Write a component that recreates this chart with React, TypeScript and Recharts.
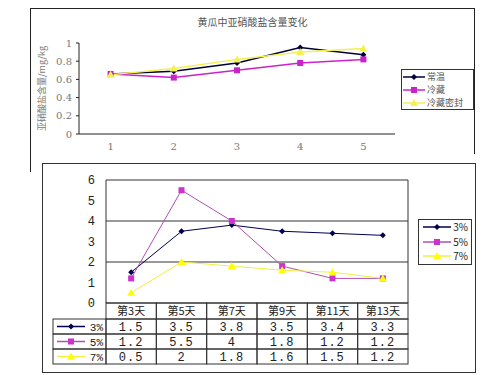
import { LineChart, Line, XAxis, YAxis, CartesianGrid, Legend } from "recharts"

// top chart: 黄瓜中亚硝酸盐含量变化
const days = [1, 2, 3, 4, 5]
const normalTemp = [0.66, 0.69, 0.78, 0.95, 0.87]
const fridge = [0.66, 0.62, 0.7, 0.78, 0.82]
const fridgeSealed = [0.65, 0.72, 0.82, 0.9, 0.94]
const topTicks = [0, 0.2, 0.4, 0.6, 0.8, 1]

// bottom chart: salt 3% / 5% / 7%
const dayLabels = ["第3天", "第5天", "第7天", "第9天", "第11天", "第13天"]
const salt3 = [1.5, 3.5, 3.8, 3.5, 3.4, 3.3]
const salt5 = [1.2, 5.5, 4, 1.8, 1.2, 1.2]
const salt7 = [0.5, 2, 1.8, 1.6, 1.5, 1.2]
const bottomTicks = [0, 1, 2, 3, 4, 5, 6]

const topData = days.map((d, i) => ({ day: d, normal: normalTemp[i], fridge: fridge[i], sealed: fridgeSealed[i] }))
const bottomData = dayLabels.map((d, i) => ({ day: d, s3: salt3[i], s5: salt5[i], s7: salt7[i] }))

const topSeries = [
  { key: "normal", name: "常温", color: "#000038", shape: "diamond" },
  { key: "fridge", name: "冷藏", color: "#cc22cc", shape: "square" },
  { key: "sealed", name: "冷藏密封", color: "#f4f050", shape: "triangle" },
]
const bottomSeries = [
  { key: "s3", name: "3%", color: "#000050", line: "#000050", shape: "diamond" },
  { key: "s5", name: "5%", color: "#cc33cc", line: "#b050b0", shape: "square" },
  { key: "s7", name: "7%", color: "#ffff00", line: "#f0f040", shape: "triangle" },
]

const CJK = '"Noto Sans CJK SC", sans-serif'
const MONO = '"Liberation Mono", monospace'

function Marker({ cx, cy, shape, color, s = 3 }: any) {
  if (shape === "diamond")
    return <polygon points={`${cx},${cy - s} ${cx + s},${cy} ${cx},${cy + s} ${cx - s},${cy}`} fill={color} />
  if (shape === "square") return <rect x={cx - s} y={cy - s} width={s * 2} height={s * 2} fill={color} />
  return <polygon points={`${cx},${cy - s - 1} ${cx + s + 1},${cy + s} ${cx - s - 1},${cy + s}`} fill={color} />
}

function LegendRow({ s, width, align, h }: any) {
  return (
    <div style={{ display: "flex", alignItems: "center", height: h, lineHeight: h + "px", justifyContent: align, whiteSpace: "nowrap" }}>
      <svg width={width} height={10} style={{ flex: "none" }}>
        <line x1={0} y1={5} x2={width} y2={5} stroke={s.line || s.color} strokeWidth={1.5} />
        <Marker cx={width / 2} cy={5} shape={s.shape} color={s.color} />
      </svg>
      <span style={{ marginLeft: 2 }}>{s.name}</span>
    </div>
  )
}

// top plot geometry
const TW = 445
const TM = { top: 35, right: 80, left: 14, bottom: 4 }
const TY = 35
const TBAND = (TW - TM.right - TM.left - TY) / days.length

// bottom plot geometry
const BW = 432
const BM = { top: 16, right: 66, left: 0, bottom: 5 }
const BY = 64
const BAND = (BW - BM.right - BY) / dayLabels.length
const ROWS = [16, 15, 15, 15]

function TableTick(props: any) {
  const { x, y, payload, index } = props
  const x0 = x - BAND / 2
  const vals = [salt3[index], salt5[index], salt7[index]]
  let top = y
  const cells: any[] = []
  ROWS.forEach((h, r) => {
    cells.push(<rect key={"r" + r} x={x0} y={top} width={BAND} height={h} fill="none" stroke="#333" />)
    cells.push(
      <text key={"t" + r} x={x} y={top + h / 2 + 4} textAnchor="middle" fontSize={r === 0 ? 11 : 12} fill="#222"
        style={{ fontFamily: r === 0 ? CJK : MONO, letterSpacing: r === 0 ? 0 : 1 }}>
        {r === 0 ? payload.value : String(vals[r - 1])}
      </text>
    )
    if (index === 0 && r > 0) {
      const lx = x0 - 53
      const s = bottomSeries[r - 1]
      cells.push(<rect key={"l" + r} x={lx} y={top} width={53} height={h} fill="none" stroke="#333" />)
      cells.push(<line key={"ll" + r} x1={lx + 4} y1={top + h / 2} x2={lx + 32} y2={top + h / 2} stroke={s.line} strokeWidth={1.5} />)
      cells.push(<Marker key={"lm" + r} cx={lx + 18} cy={top + h / 2} shape={s.shape} color={s.color} />)
      cells.push(
        <text key={"lt" + r} x={lx + 50} y={top + h / 2 + 4} textAnchor="end" fontSize={11} fill="#222" style={{ fontFamily: MONO }}>
          {s.name}
        </text>
      )
    }
    top += h
  })
  return <g>{cells}</g>
}

export default function App() {
  return (
    <div style={{ position: "absolute", left: 0, top: 0, width: 500, height: 375, background: "#fff", fontFamily: CJK }}>
      {/* top frame */}
      <div style={{ position: "absolute", left: 30, top: 8, width: 445, height: 0, borderTop: "1px solid #222" }} />
      <div style={{ position: "absolute", left: 30, top: 8, width: 0, height: 164, borderLeft: "1px solid #222" }} />
      <div style={{ position: "absolute", left: 474, top: 8, width: 0, height: 146, borderLeft: "1px solid #222" }} />
      <div style={{ position: "absolute", left: 196, top: 14, width: 113, textAlign: "center", fontSize: 10, color: "#555", whiteSpace: "nowrap" }}>
        黄瓜中亚硝酸盐含量变化
      </div>
      <div style={{ position: "absolute", left: 30, top: 8 }}>
        <LineChart width={TW} height={150} data={topData} margin={TM}>
          <XAxis dataKey="day" axisLine={{ stroke: "#222" }} tickLine={false} tickSize={0} tickMargin={9}
            padding={{ left: TBAND / 2, right: TBAND / 2 }}
            tick={{ fontSize: 10, fill: "#777", fontFamily: "DejaVu Serif" }} height={20} />
          <YAxis domain={[0, 1]} ticks={topTicks} width={TY} axisLine={{ stroke: "#222" }} tickSize={3}
            tickMargin={4} tickLine={{ stroke: "#222" }}
            tickFormatter={(v: number) => (v === 0 || v === 1 ? String(v) : v.toFixed(1))}
            tick={{ fontSize: 10, fill: "#777", fontFamily: "DejaVu Serif" }}
            label={(p: any) => {
              const vb = p.viewBox
              const cx = 15
              const cy = vb.y + vb.height / 2
              return (
                <text x={cx} y={cy} transform={`rotate(-90 ${cx} ${cy})`} textAnchor="middle" fontSize={9} fill="#777"
                  style={{ fontFamily: CJK }}>
                  亚硝酸盐含量/mg/kg
                </text>
              )
            }} />
          <Legend layout="vertical" align="center" verticalAlign="middle"
            wrapperStyle={{ left: 371, top: 61, width: 73 }}
            content={() => (
              <div style={{ border: "1px solid #333", padding: "0px 1px", fontSize: 9, color: "#555", background: "#fff", fontFamily: CJK }}>
                {topSeries.map((s) => <LegendRow key={s.key} s={s} width={22} h={13} align="flex-start" />)}
              </div>
            )} />
          {topSeries.map((s) => (
            <Line key={s.key} dataKey={s.key} name={s.name} stroke={s.color} strokeWidth={1.5} isAnimationActive={false}
              dot={(p: any) => <Marker key={p.index} cx={p.cx} cy={p.cy} shape={s.shape} color={s.color} />} />
          ))}
        </LineChart>
      </div>

      {/* bottom chart */}
      <div style={{ position: "absolute", left: 42, top: 163, width: 432, height: 208, border: "1px solid #333" }} />
      <div style={{ position: "absolute", left: 42, top: 164 }}>
        <LineChart width={BW} height={205} data={bottomData} margin={BM}>
          <CartesianGrid stroke="#333"
            verticalCoordinatesGenerator={({ offset }: any) => [offset.left, offset.left + offset.width]} />
          <XAxis dataKey="day" axisLine={false} tickLine={false} tickSize={0} tickMargin={0} height={61}
            padding={{ left: BAND / 2, right: BAND / 2 }} interval={0} tick={<TableTick />} />
          <YAxis domain={[0, 6]} ticks={bottomTicks} width={BY} axisLine={false} tickLine={false} tickSize={0}
            tickMargin={11} tick={{ fontSize: 12, fill: "#222", fontFamily: MONO }} />
          <Legend layout="vertical" align="center" verticalAlign="middle"
            wrapperStyle={{ left: 376, top: 55, width: 54 }}
            content={() => (
              <div style={{ border: "1px solid #333", padding: "0px 3px", fontSize: 10, color: "#222", background: "#fff", fontFamily: CJK }}>
                {bottomSeries.map((s) => <LegendRow key={s.key} s={s} width={28} h={14.5} align="flex-end" />)}
              </div>
            )} />
          {bottomSeries.map((s) => (
            <Line key={s.key} dataKey={s.key} name={s.name} stroke={s.line} strokeWidth={1} type="linear"
              isAnimationActive={false}
              dot={(p: any) => <Marker key={p.index} cx={p.cx} cy={p.cy} shape={s.shape} color={s.color} />} />
          ))}
        </LineChart>
      </div>
    </div>
  )
}
